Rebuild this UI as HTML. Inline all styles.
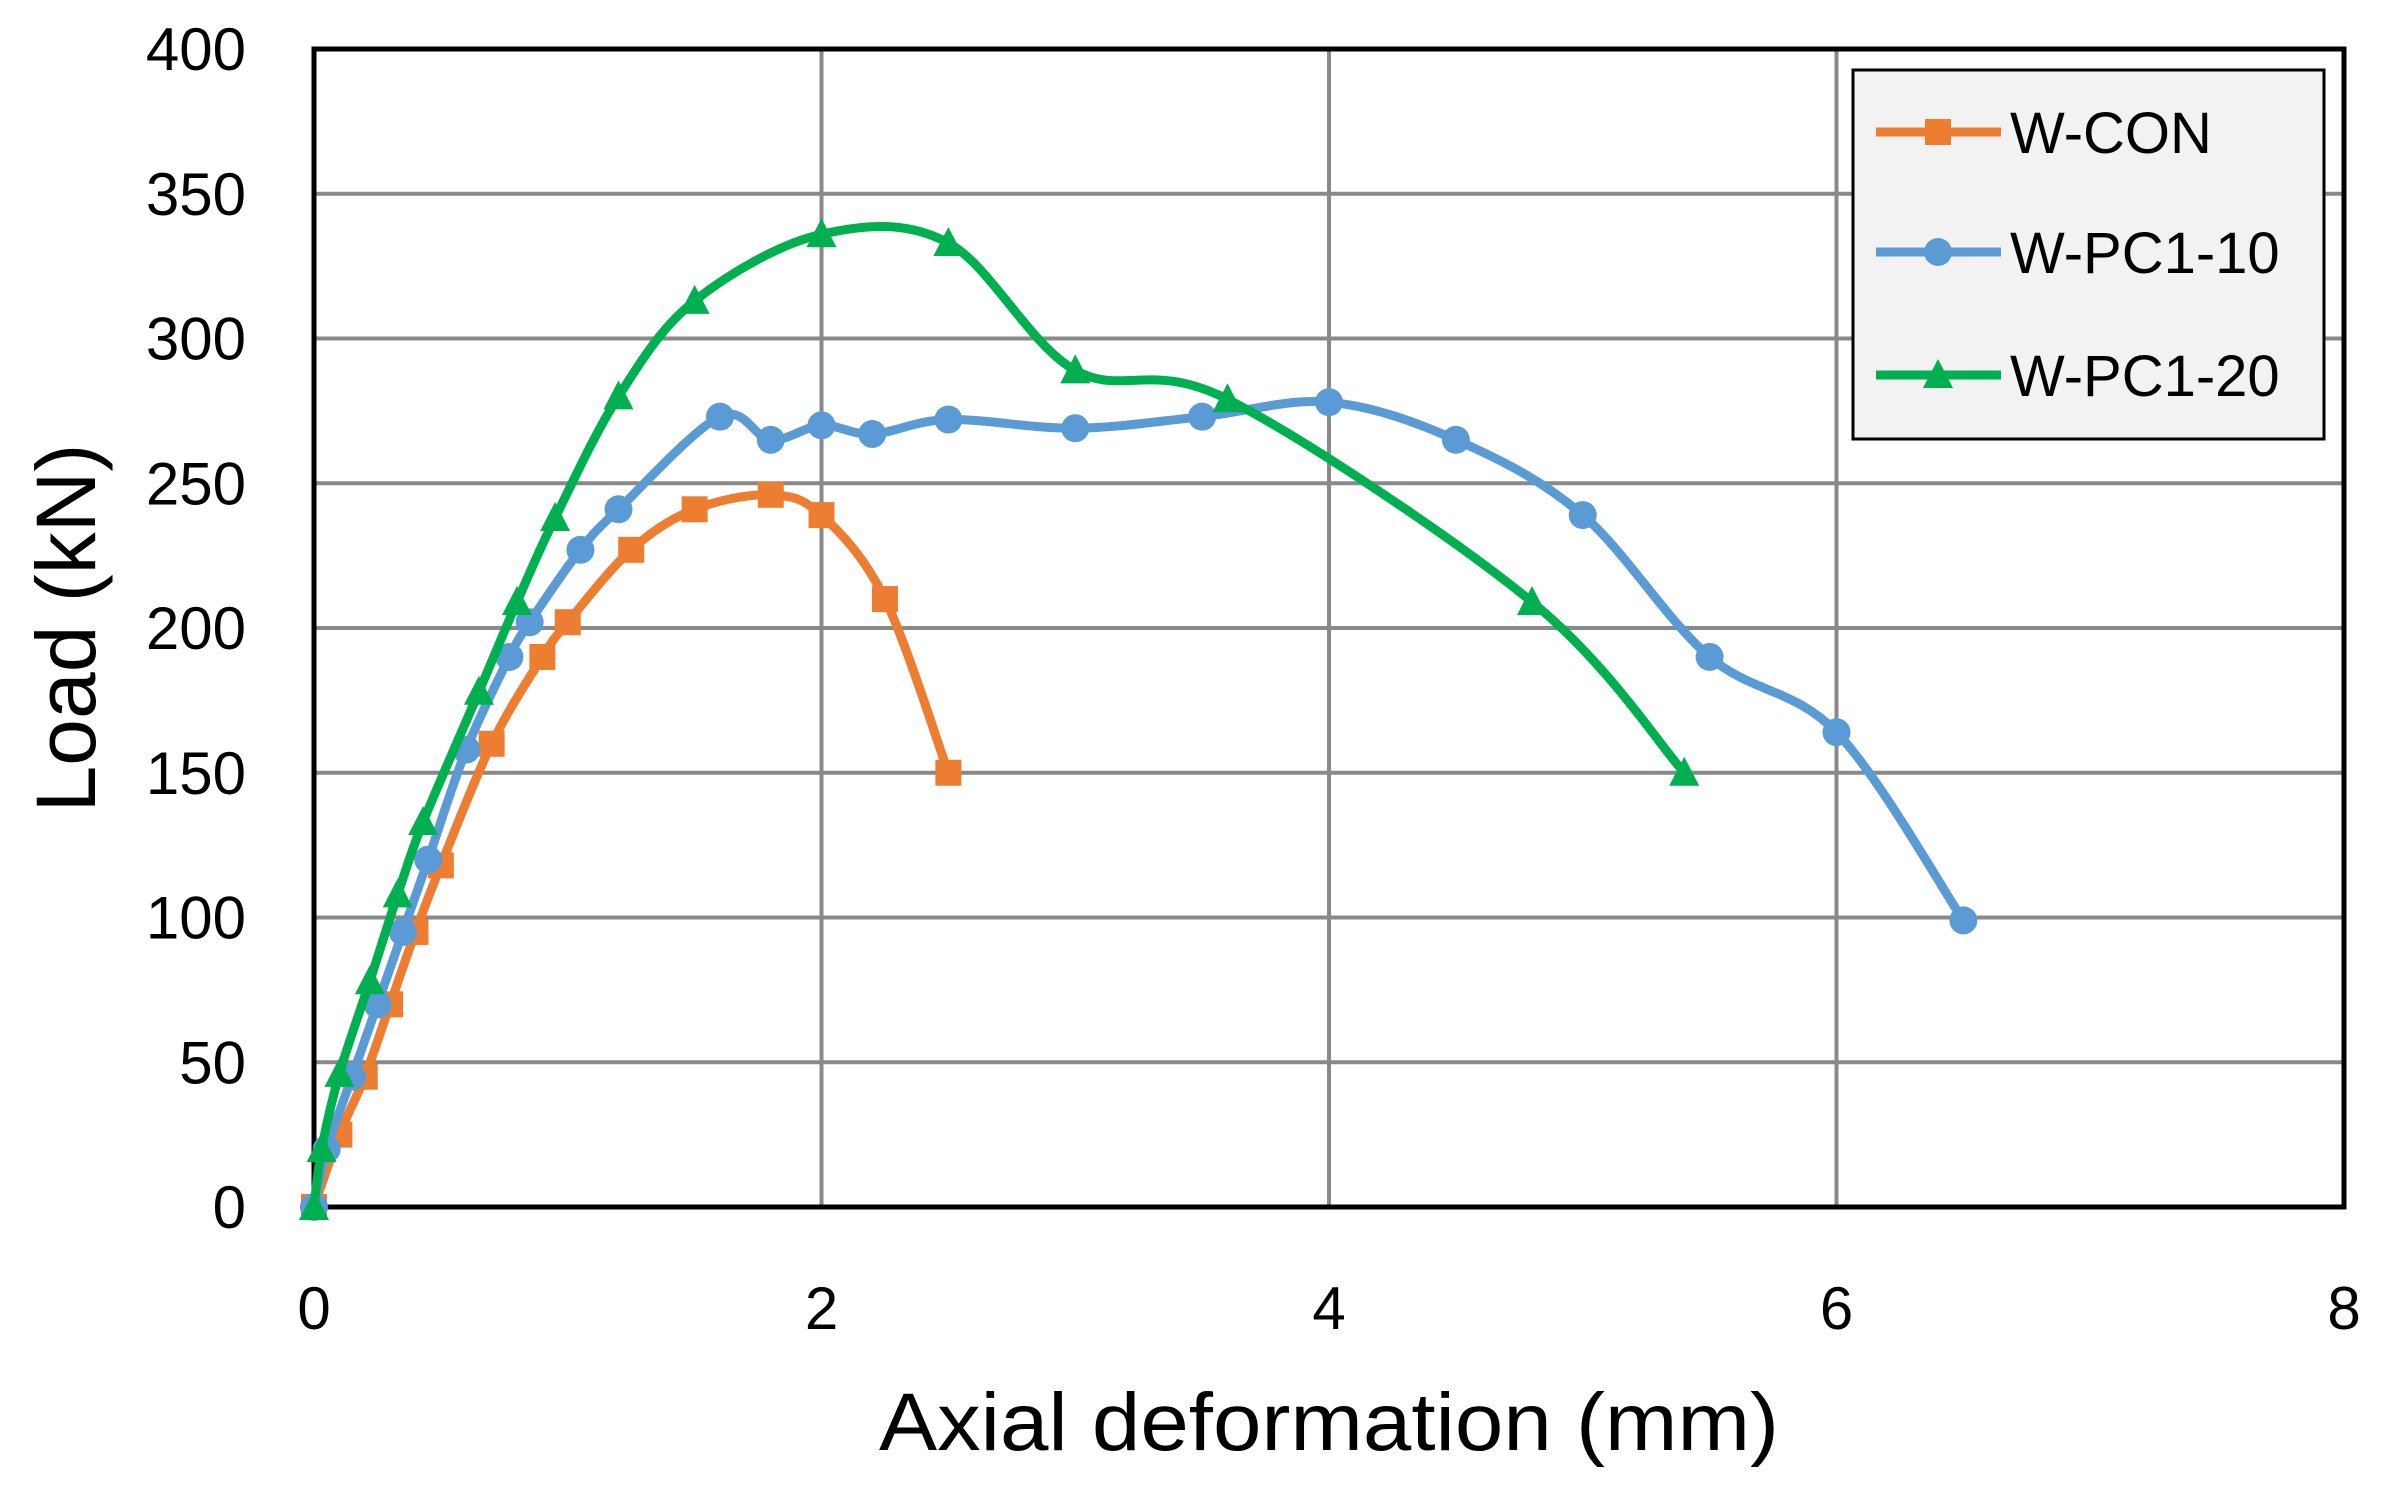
<!DOCTYPE html>
<html><head><meta charset="utf-8"><style>
html,body{margin:0;padding:0;background:#fff;}
svg{display:block;font-family:"Liberation Sans",sans-serif;}
</style></head><body>
<svg id="s" width="2387" height="1492" viewBox="0 0 2387 1492" xmlns="http://www.w3.org/2000/svg">
<g id="grid" stroke="#898989" stroke-width="4"></g>
<rect x="314" y="49" width="2030" height="1158" fill="none" stroke="#000" stroke-width="5"/>
<g id="series"></g>
<g id="labels" font-size="60" fill="#000"></g>
<text x="1329" y="1450" font-size="82" text-anchor="middle" textLength="900" lengthAdjust="spacingAndGlyphs">Axial deformation (mm)</text>
<text transform="translate(95,628) rotate(-90)" font-size="84" text-anchor="middle">Load (kN)</text>
<rect x="1853" y="70" width="471" height="369" fill="#f2f2f2" stroke="#000" stroke-width="3"/>
<g id="legend" font-size="58"></g>
</svg>
<script>
const L=314,R=2344,T=49,B=1207;
const X=v=>L+v*(R-L)/8, Y=v=>B-v*(B-T)/400;
const ns="http://www.w3.org/2000/svg";
function el(p,t,a,txt){const e=document.createElementNS(ns,t);for(const k in a)e.setAttribute(k,a[k]);if(txt!==undefined)e.textContent=txt;document.getElementById(p).appendChild(e);return e;}
for(let i=2;i<8;i+=2){el("grid","line",{x1:X(i),x2:X(i),y1:T,y2:B});}
for(let j=50;j<400;j+=50){el("grid","line",{x1:L,x2:R,y1:Y(j),y2:Y(j)});}
for(let j=0;j<=400;j+=50){el("labels","text",{x:246,y:Y(j)+21,"text-anchor":"end"},String(j));}
for(let i=0;i<=8;i+=2){el("labels","text",{x:X(i),y:1329,"text-anchor":"middle"},String(i));}
const data=[
{c:"#ED7D31",m:"sq",p:[[0,0],[0.1,25],[0.2,45],[0.3,70],[0.4,95],[0.5,118],[0.7,160],[0.9,190],[1.0,202],[1.25,227],[1.5,241],[1.8,246],[2.0,239],[2.25,210],[2.5,150]]},
{c:"#5B9BD5",m:"ci",p:[[0,0],[0.05,20],[0.15,45],[0.25,70],[0.35,95],[0.45,120],[0.6,158],[0.77,190],[0.85,202],[1.05,227],[1.2,241],[1.6,273],[1.8,265],[2.0,270],[2.2,267],[2.5,272],[3.0,269],[3.5,273],[4.0,278],[4.5,265],[5.0,239],[5.5,190],[6.0,164],[6.5,99]]},
{c:"#00B050",m:"tr",p:[[0,0],[0.03,20],[0.1,46],[0.22,78],[0.33,108],[0.43,133],[0.65,178],[0.8,209],[0.95,238],[1.2,280],[1.5,313],[2.0,336],[2.5,333],[3.0,289],[3.6,279],[4.8,209],[5.4,150]]}
];
function marker(g,m,x,y,c){
 if(m=="sq")el(g,"rect",{x:x-13,y:y-13,width:26,height:26,fill:c});
 else if(m=="ci")el(g,"circle",{cx:x,cy:y,r:14,fill:c});
 else el(g,"polygon",{points:`${x},${y-16} ${x+15},${y+13} ${x-15},${y+13}`,fill:c});
}
data.forEach(s=>{
 const P=s.p.map(q=>[X(q[0]),Y(q[1])]);
 let d="M"+P[0][0]+","+P[0][1];
 for(let i=0;i<P.length-1;i++){
  const p0=P[Math.max(i-1,0)],p1=P[i],p2=P[i+1],p3=P[Math.min(i+2,P.length-1)];
  const t=0.5/3;
  d+=` C${p1[0]+(p2[0]-p0[0])*t},${p1[1]+(p2[1]-p0[1])*t} ${p2[0]-(p3[0]-p1[0])*t},${p2[1]-(p3[1]-p1[1])*t} ${p2[0]},${p2[1]}`;
 }
 el("series","path",{d:d,fill:"none",stroke:s.c,"stroke-width":9,"stroke-linejoin":"round"});
 P.forEach(q=>marker("series",s.m,q[0],q[1],s.c));
});
const names=["W-CON","W-PC1-10","W-PC1-20"],ly=[132,252,375];
data.forEach((s,i)=>{
 el("legend","line",{x1:1876,x2:2001,y1:ly[i],y2:ly[i],stroke:s.c,"stroke-width":9});
 marker("legend",s.m,1938,ly[i],s.c);
 el("legend","text",{x:2010,y:ly[i]+21},names[i]);
});
</script>
</body></html>
